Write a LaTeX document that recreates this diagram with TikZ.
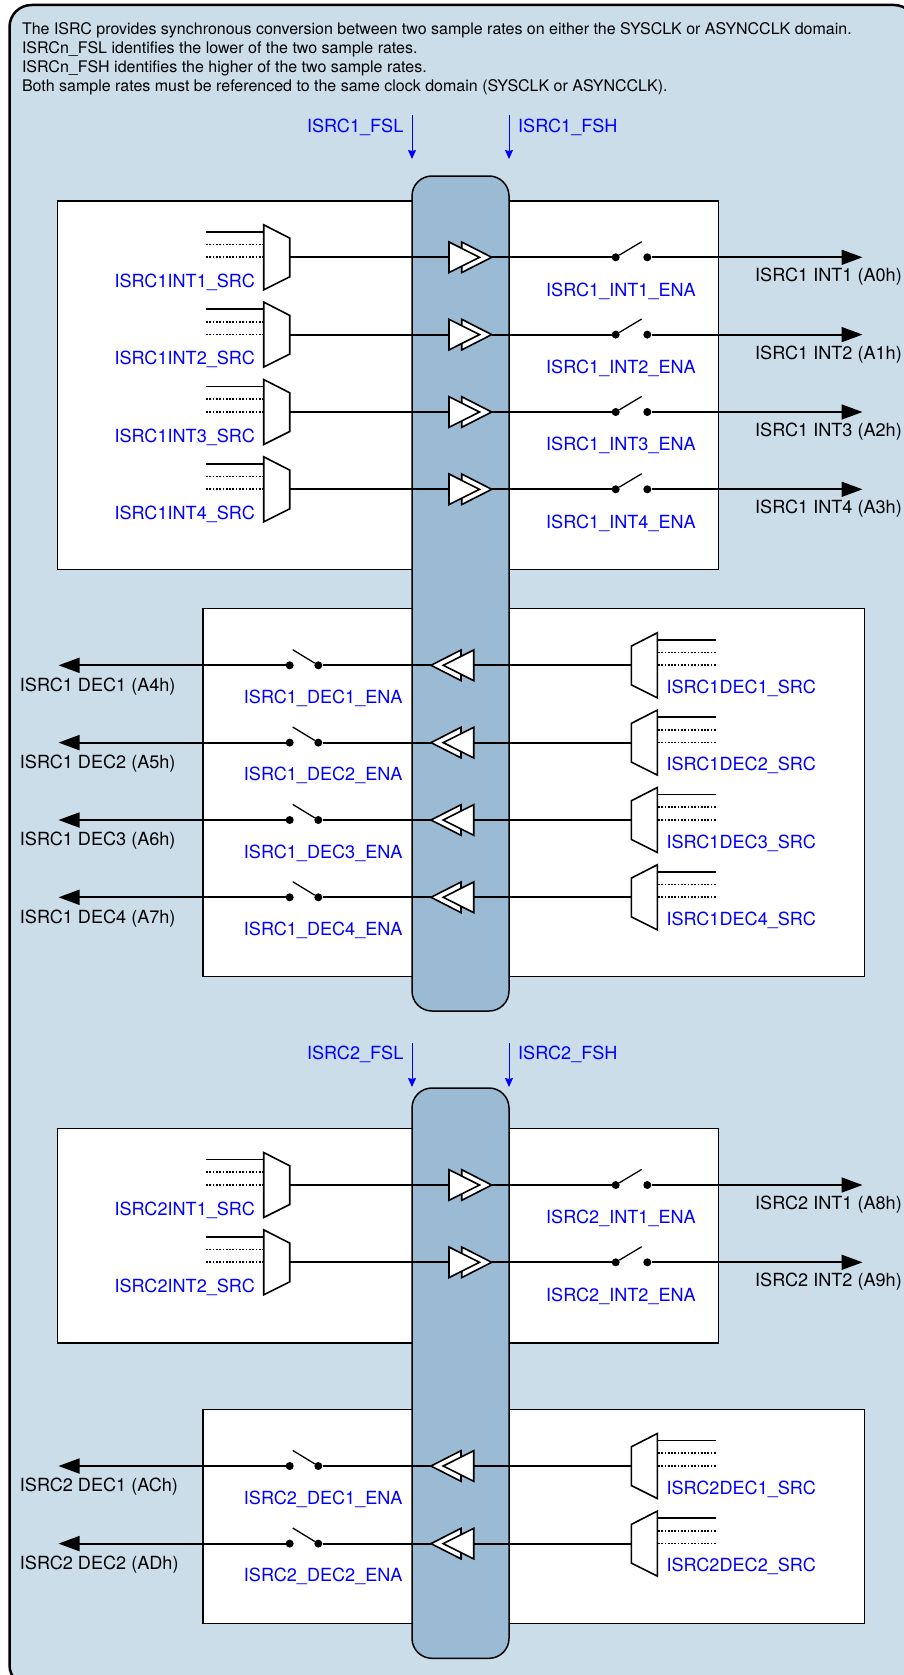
\documentclass[tikz,border=0pt]{standalone}
\usepackage{fontspec}
\setmainfont{TeX Gyre Heros}
\usetikzlibrary{arrows.meta}
\definecolor{framefill}{HTML}{CBDDE9}
\definecolor{busfill}{HTML}{9BBBD4}
\tikzset{
  txt/.style={font=\fontsize{18.1}{19}\selectfont,inner sep=0pt},
  ctl/.style={txt,text=blue},
  wire/.style={line width=1.8pt},
  dotwire/.style={line width=1.7pt,dash pattern=on 1.7pt off 1.6pt},
  block/.style={draw,line width=1.5pt,fill=white,outer sep=0pt},
  bus/.style={draw,line width=1.5pt,fill=busfill,rounded corners=20pt,outer sep=0pt},
  muxbox/.style={draw,line width=1.6pt,fill=white,line join=miter},
  swdot/.style={circle,fill=black,inner sep=0pt,minimum size=8pt},
  fs/.style={blue,line width=1pt,-{Stealth[length=9pt,width=8pt,inset=1pt]}},
  outarrow/.style={line width=1.8pt,-{Triangle[length=21pt,width=15pt]}},
}
\begin{document}
\begin{tikzpicture}[x=1pt,y=-1pt]
\useasboundingbox (0,0) rectangle (904,1675);
\clip (0,0) rectangle (904,1675);
\draw[line width=2.5pt,fill=framefill,rounded corners=22pt] (9.5,5) rectangle (916,1687);
\node[font=\fontsize{16}{19}\selectfont,inner sep=0pt,anchor=north west,align=left] (intro) at (21.8,22.3) {The ISRC provides synchronous conversion between two sample rates on either the SYSCLK or ASYNCCLK domain.\\
ISRCn\_FSL identifies the lower of the two sample rates.\\
ISRCn\_FSH identifies the higher of the two sample rates.\\
Both sample rates must be referenced to the same clock domain (SYSCLK or ASYNCCLK).};
% boxes behind the two buses
\node[block,minimum width=660.8pt,minimum height=368.6pt,anchor=north west] (box1) at (57.7,201) {};
\node[block,minimum width=661.3pt,minimum height=368.4pt,anchor=north west] (box2) at (203,608.3) {};
\node[block,minimum width=660.8pt,minimum height=214.5pt,anchor=north west] (box3) at (57.7,1128.5) {};
\node[block,minimum width=661.3pt,minimum height=214.2pt,anchor=north west] (box4) at (203,1409.5) {};
\node[bus,minimum width=97pt,minimum height=835pt,anchor=north west] (bus1) at (412,176) {};
\node[bus,minimum width=97pt,minimum height=570.3pt,anchor=north west] (bus2) at (412,1088) {};
% sample rate controls
\foreach \isrc/\ytxt/\ytop/\yend in {1/132/115/159,2/1059.5/1043/1087}{
  \coordinate (fsl\isrc a) at (412,\ytop);
  \coordinate (fsl\isrc b) at (412,\yend);
  \coordinate (fsh\isrc a) at (509,\ytop);
  \coordinate (fsh\isrc b) at (509,\yend);
  \draw[fs] (fsl\isrc a) -- (fsl\isrc b);
  \draw[fs] (fsh\isrc a) -- (fsh\isrc b);
  \node[ctl,anchor=base east] (fsl\isrc) at (403.5,\ytxt) {ISRC\isrc\_FSL};
  \node[ctl,anchor=base west] (fsh\isrc) at (518,\ytxt) {ISRC\isrc\_FSH};
}
% interpolators, left to right
\foreach \isrc/\n/\addr/\y in {1/1/A0h/257.3,1/2/A1h/334.6,1/3/A2h/412,1/4/A3h/489.3,2/1/A8h/1185,2/2/A9h/1262.3}{
  \coordinate (in\isrc\n a) at (206,\y-25.6);
  \coordinate (in\isrc\n b) at (263.7,\y-25.6);
  \coordinate (in\isrc\n c) at (206,\y-12.8);
  \coordinate (in\isrc\n d) at (263.7,\y-12.8);
  \coordinate (in\isrc\n e) at (206,\y);
  \coordinate (in\isrc\n f) at (263.7,\y);
  \coordinate (mux\isrc\n) at (289.7,\y);
  \coordinate (src\isrc\n) at (449,\y);
  \coordinate (tip\isrc\n) at (491.7,\y);
  \coordinate (end\isrc\n) at (862.5,\y);
  \draw[wire] (in\isrc\n a) -- (in\isrc\n b);
  \draw[dotwire] (in\isrc\n c) -- (in\isrc\n d);
  \draw[dotwire] (in\isrc\n e) -- (in\isrc\n f);
  \draw[wire] (mux\isrc\n) -- (src\isrc\n);
  \draw[muxbox] (263.7,\y-32.5) -- (289.7,\y-19.2) -- (289.7,\y+19.5) -- (263.7,\y+32.5) -- cycle;
  \draw[muxbox] (461.7,\y-15.3) -- (491.7,\y) -- (461.7,\y+15.3) -- cycle;
  \draw[muxbox] (449,\y-15.3) -- (479.5,\y) -- (449,\y+15.3) -- cycle;
  \node[swdot] (swa\isrc\n) at (615.7,\y) {};
  \node[swdot] (swb\isrc\n) at (647.3,\y) {};
  \coordinate (lev\isrc\n) at (641.7,\y-15.6);
  \draw[wire] (tip\isrc\n) -- (swa\isrc\n);
  \draw[line width=1.3pt] (swa\isrc\n) -- (lev\isrc\n);
  \draw[outarrow] (swb\isrc\n) -- (end\isrc\n);
  \node[ctl,anchor=base east] (sel\isrc\n) at (255,\y+30.2) {ISRC\isrc INT\n\_SRC};
  \node[ctl,anchor=base west] (ena\isrc\n) at (546,\y+38.8) {ISRC\isrc\_INT\n\_ENA};
  \node[txt,anchor=base west] (nam\isrc\n) at (755,\y+24.5) {ISRC\isrc{} INT\n{} (\addr)};
}
% decimators, right to left
\foreach \isrc/\n/\addr/\y in {1/1/A4h/665.3,1/2/A5h/742.6,1/3/A6h/820,1/4/A7h/897.3,2/1/ACh/1466,2/2/ADh/1543.6}{
  \coordinate (din\isrc\n a) at (715.7,\y-25.6);
  \coordinate (din\isrc\n b) at (657.3,\y-25.6);
  \coordinate (din\isrc\n c) at (715.7,\y-12.8);
  \coordinate (din\isrc\n d) at (657.3,\y-12.8);
  \coordinate (din\isrc\n e) at (715.7,\y);
  \coordinate (din\isrc\n f) at (657.3,\y);
  \coordinate (dmux\isrc\n) at (631.3,\y);
  \coordinate (dsrc\isrc\n) at (473.7,\y);
  \coordinate (dtip\isrc\n) at (431,\y);
  \coordinate (dend\isrc\n) at (58.5,\y);
  \draw[wire] (din\isrc\n a) -- (din\isrc\n b);
  \draw[dotwire] (din\isrc\n c) -- (din\isrc\n d);
  \draw[dotwire] (din\isrc\n e) -- (din\isrc\n f);
  \draw[wire] (dmux\isrc\n) -- (dsrc\isrc\n);
  \draw[muxbox] (657.3,\y-32.5) -- (631.3,\y-19.2) -- (631.3,\y+19.5) -- (657.3,\y+32.5) -- cycle;
  \draw[muxbox] (461,\y-15.3) -- (431,\y) -- (461,\y+15.3) -- cycle;
  \draw[muxbox] (473.7,\y-15.3) -- (443.2,\y) -- (473.7,\y+15.3) -- cycle;
  \node[swdot] (dswa\isrc\n) at (318.3,\y) {};
  \node[swdot] (dswb\isrc\n) at (289.7,\y) {};
  \coordinate (dlev\isrc\n) at (292.7,\y-15.6);
  \draw[wire] (dtip\isrc\n) -- (dswa\isrc\n);
  \draw[line width=1.3pt] (dswa\isrc\n) -- (dlev\isrc\n);
  \draw[outarrow] (dswb\isrc\n) -- (dend\isrc\n);
  \node[ctl,anchor=base west] (dsel\isrc\n) at (666.3,\y+28) {ISRC\isrc DEC\n\_SRC};
  \node[ctl,anchor=base west] (dena\isrc\n) at (243.7,\y+38.3) {ISRC\isrc\_DEC\n\_ENA};
  \node[txt,anchor=base west] (dnam\isrc\n) at (19.7,\y+25.9) {ISRC\isrc{} DEC\n{} (\addr)};
}
\end{tikzpicture}
\end{document}
